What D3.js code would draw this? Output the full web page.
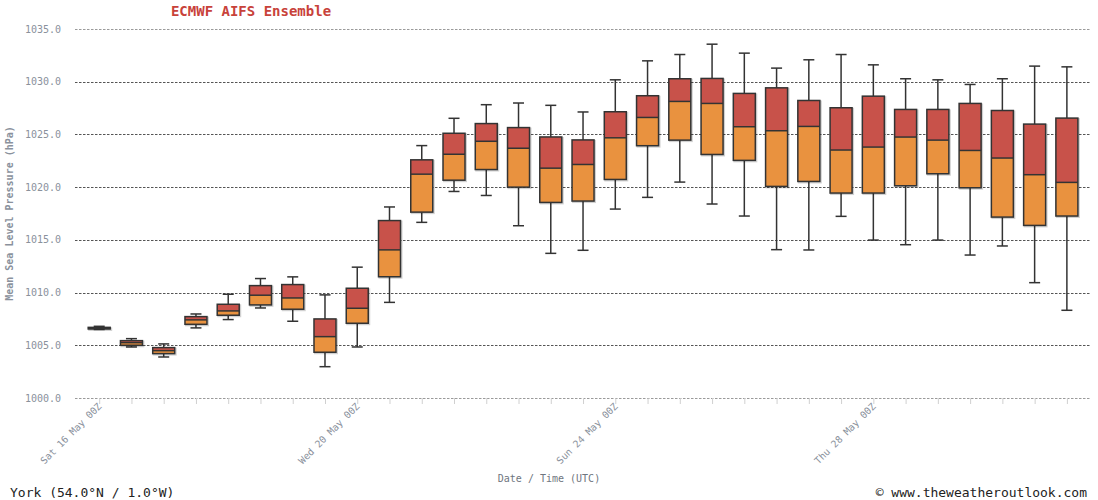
<!DOCTYPE html>
<html>
<head>
<meta charset="utf-8">
<script src="https://cdn.jsdelivr.net/npm/d3@7"></script>
<style>
  body { margin: 0; background: #fff; }
  text { font-family: "DejaVu Sans Mono", monospace; }
</style>
</head>
<body>
<svg id="chart" width="1098" height="500"></svg>
<script>
// run times every 12h from Sat 16 May 2026 00Z
const startTime = Date.UTC(2026, 4, 16, 0);
const stepHours = 12;

// box values per time step (hPa)
const mins    = [1006.5, 1004.84, 1003.89, 1006.65, 1007.44, 1008.54, 1007.28, 1002.97, 1004.84, 1009.07, 1016.66, 1019.59, 1019.21, 1016.34, 1013.72, 1014.01, 1017.92, 1019.03, 1020.48, 1018.4, 1017.26, 1014.07, 1014.04, 1017.23, 1014.98, 1014.54, 1014.98, 1013.56, 1014.42, 1010.94, 1008.32];
const q1s     = [1006.55, 1005.0, 1004.21, 1006.99, 1007.85, 1008.83, 1008.42, 1004.34, 1007.09, 1011.5, 1017.63, 1020.66, 1021.67, 1020.0, 1018.55, 1018.68, 1020.73, 1023.93, 1024.46, 1023.1, 1022.54, 1020.07, 1020.54, 1019.44, 1019.44, 1020.13, 1021.27, 1019.94, 1017.16, 1016.37, 1017.26];
const medians = [1006.6, 1005.25, 1004.49, 1007.41, 1008.26, 1009.75, 1009.49, 1005.82, 1008.51, 1014.05, 1021.23, 1023.12, 1024.35, 1023.69, 1021.8, 1022.15, 1024.68, 1026.61, 1028.13, 1027.94, 1025.73, 1025.35, 1025.76, 1023.52, 1023.8, 1024.75, 1024.46, 1023.48, 1022.76, 1021.18, 1020.45];
const q3s     = [1006.7, 1005.44, 1004.78, 1007.72, 1008.89, 1010.66, 1010.76, 1007.5, 1010.41, 1016.83, 1022.59, 1025.11, 1026.03, 1025.65, 1024.76, 1024.48, 1027.15, 1028.67, 1030.28, 1030.31, 1028.89, 1029.42, 1028.22, 1027.53, 1028.63, 1027.37, 1027.37, 1027.94, 1027.27, 1025.98, 1026.55];
const maxs    = [1006.8, 1005.63, 1005.13, 1007.97, 1009.84, 1011.33, 1011.49, 1009.78, 1012.41, 1018.12, 1023.94, 1026.53, 1027.82, 1027.98, 1027.76, 1027.13, 1030.18, 1031.98, 1032.58, 1033.56, 1032.71, 1031.29, 1032.08, 1032.58, 1031.6, 1030.28, 1030.18, 1029.74, 1030.28, 1031.48, 1031.41];

const yTicks = [1000, 1005, 1010, 1015, 1020, 1025, 1030, 1035];
const xLabels = ["Sat 16 May 00Z", "Wed 20 May 00Z", "Sun 24 May 00Z", "Thu 28 May 00Z"];

const hour = 3600 * 1000;
const times = mins.map((d, i) => new Date(startTime + i * stepHours * hour));
const data = times.map((t, i) => ({
  t, min: mins[i], q1: q1s[i], med: medians[i], q3: q3s[i], max: maxs[i]
}));

const plotLeft = 75, plotRight = 1090, plotTop = 29, plotBottom = 398;

const x = d3.scaleUtc()
  .domain([new Date(startTime - 9 * hour), new Date(times[times.length - 1].getTime() + 8.6 * hour)])
  .range([plotLeft, plotRight]);

const y = d3.scaleLinear()
  .domain([1000, 1035])
  .range([plotBottom, plotTop]);

const svg = d3.select("#chart");

// grid lines
svg.append("g")
  .selectAll("line")
  .data(yTicks)
  .join("line")
    .attr("x1", plotLeft)
    .attr("x2", plotRight)
    .attr("y1", d => Math.round(y(d)) + 0.5)
    .attr("y2", d => Math.round(y(d)) + 0.5)
    .attr("stroke", d => (d === 1000 || d === 1035) ? "#9a9a9a" : "#555")
    .attr("stroke-width", 1)
    .attr("stroke-dasharray", "2.5,1.5");

// y tick labels
svg.append("g")
  .selectAll("text")
  .data(yTicks)
  .join("text")
    .attr("x", 61)
    .attr("y", d => y(d))
    .attr("dy", "0.35em")
    .attr("text-anchor", "end")
    .attr("font-size", 10)
    .attr("fill", "#8a919c")
    .text(d => d.toFixed(1));

// x axis ticks
const xAxis = svg.append("g")
  .attr("transform", `translate(0,${plotBottom})`)
  .call(d3.axisBottom(x).tickValues(times).tickSize(6).tickFormat(""));
xAxis.select(".domain").remove();
xAxis.selectAll(".tick line").attr("stroke", "#d0d0d0");

// x tick labels, every 4 days
svg.append("g")
  .selectAll("text")
  .data(xLabels)
  .join("text")
    .attr("transform", (d, i) => `translate(${x(times[i * 8]) + 3},${plotBottom + 9}) rotate(-45)`)
    .attr("text-anchor", "end")
    .attr("font-size", 9.7)
    .attr("fill", "#8a919c")
    .text(d => d);

// boxes
const boxW = 22, capW = 11;
const boxes = svg.append("g")
  .selectAll("g")
  .data(data)
  .join("g")
    .attr("transform", d => `translate(${x(d.t)},0)`);

// whiskers
boxes.append("line")
  .attr("y1", d => y(d.max)).attr("y2", d => y(d.q3))
  .attr("stroke", "#333").attr("stroke-width", 1.5);
boxes.append("line")
  .attr("y1", d => y(d.q1)).attr("y2", d => y(d.min))
  .attr("stroke", "#333").attr("stroke-width", 1.5);
boxes.append("line")
  .attr("x1", -capW / 2).attr("x2", capW / 2)
  .attr("y1", d => y(d.max)).attr("y2", d => y(d.max))
  .attr("stroke", "#333").attr("stroke-width", 1.5);
boxes.append("line")
  .attr("x1", -capW / 2).attr("x2", capW / 2)
  .attr("y1", d => y(d.min)).attr("y2", d => y(d.min))
  .attr("stroke", "#333").attr("stroke-width", 1.5);

// soft shadow
boxes.append("rect")
  .attr("x", -boxW / 2 + 1)
  .attr("y", d => y(d.q3) + 1)
  .attr("width", boxW)
  .attr("height", d => Math.max(1, y(d.q1) - y(d.q3)))
  .attr("fill", "none")
  .attr("stroke", "rgba(0,0,0,0.18)")
  .attr("stroke-width", 2);

// upper half (q3 to median)
boxes.append("rect")
  .attr("x", -boxW / 2)
  .attr("y", d => y(d.q3))
  .attr("width", boxW)
  .attr("height", d => y(d.med) - y(d.q3))
  .attr("fill", "#c8524a");

// lower half (median to q1)
boxes.append("rect")
  .attr("x", -boxW / 2)
  .attr("y", d => y(d.med))
  .attr("width", boxW)
  .attr("height", d => y(d.q1) - y(d.med))
  .attr("fill", "#e9923f");

// outline and median line
boxes.append("rect")
  .attr("x", -boxW / 2)
  .attr("y", d => y(d.q3))
  .attr("width", boxW)
  .attr("height", d => y(d.q1) - y(d.q3))
  .attr("fill", "none")
  .attr("stroke", "#333")
  .attr("stroke-width", 1.5);
boxes.append("line")
  .attr("x1", -boxW / 2).attr("x2", boxW / 2)
  .attr("y1", d => y(d.med)).attr("y2", d => y(d.med))
  .attr("stroke", "#333").attr("stroke-width", 1.5);

// titles
svg.append("text")
  .attr("x", 251).attr("y", 16)
  .attr("text-anchor", "middle")
  .attr("font-size", 14).attr("font-weight", "bold")
  .attr("fill", "#c8423a")
  .text("ECMWF AIFS Ensemble");

svg.append("text")
  .attr("transform", `translate(13,${(plotTop + plotBottom) / 2}) rotate(-90)`)
  .attr("text-anchor", "middle")
  .attr("font-size", 10).attr("font-weight", "bold")
  .attr("fill", "#8a919c")
  .text("Mean Sea Level Pressure (hPa)");

svg.append("text")
  .attr("x", 549).attr("y", 482)
  .attr("text-anchor", "middle")
  .attr("font-size", 10)
  .attr("fill", "#6f7680")
  .text("Date / Time (UTC)");

svg.append("text")
  .attr("x", 10).attr("y", 497)
  .attr("font-size", 13)
  .attr("fill", "#222")
  .text("York (54.0°N / 1.0°W)");

svg.append("text")
  .attr("x", 1087).attr("y", 497)
  .attr("text-anchor", "end")
  .attr("font-size", 13)
  .attr("fill", "#222")
  .text("© www.theweatheroutlook.com");
</script>
</body>
</html>
